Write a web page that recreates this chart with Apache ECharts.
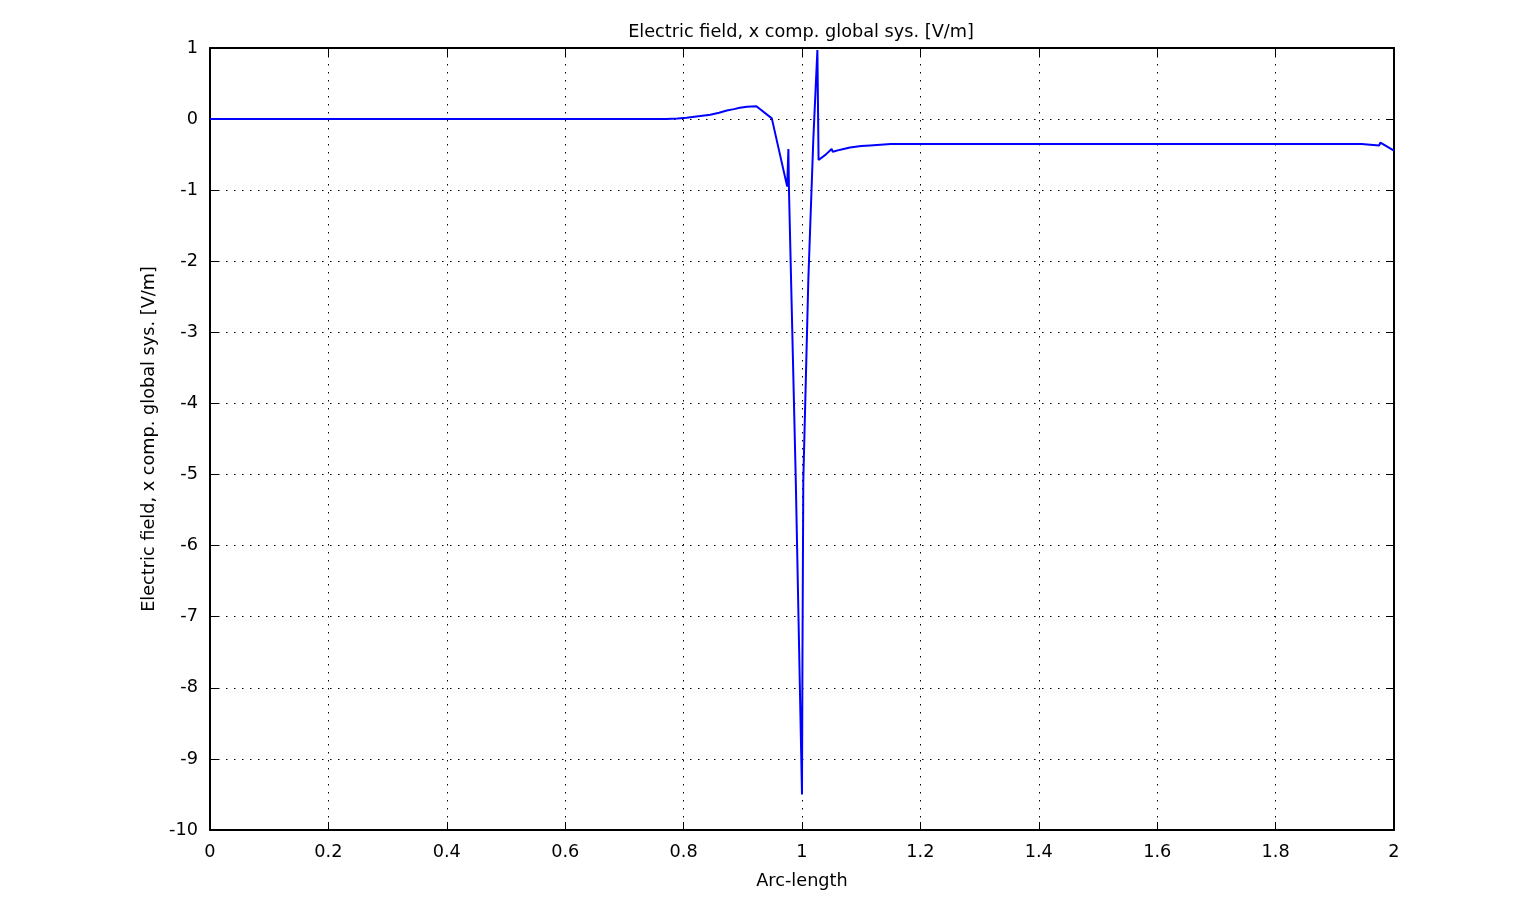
<!DOCTYPE html>
<html><head><meta charset="utf-8">
<script src="https://cdn.jsdelivr.net/npm/echarts@6/dist/echarts.min.js"></script>
<style>html,body{margin:0;padding:0;background:#fff}#c{width:1530px;height:905px}</style>
</head><body><div id="c"></div>
<script>
const titleText = "Electric field, x comp. global sys. [V/m]";
const xName = "Arc-length";
const yName = "Electric field, x comp. global sys. [V/m]";
const xTicks = [0, 0.2, 0.4, 0.6, 0.8, 1, 1.2, 1.4, 1.6, 1.8, 2];
const yTicks = [1, 0, -1, -2, -3, -4, -5, -6, -7, -8, -9, -10];
const arcLength = [0, 0.1, 0.2, 0.3, 0.4, 0.5, 0.6, 0.7, 0.77, 0.79, 0.805, 0.825, 0.845, 0.86, 0.873, 0.885, 0.895, 0.907, 0.923, 0.949, 0.975, 0.977, 0.978, 0.9895, 1.0, 1.0008, 1.0022, 1.0107, 1.0191, 1.026, 1.028, 1.04, 1.05, 1.052, 1.065, 1.081, 1.1, 1.115, 1.15, 1.3, 1.5, 1.7, 1.9, 1.945, 1.975, 1.977, 2.0];
const fieldX = [0, 0, 0, 0, 0, 0, 0, 0, 0.0, 0.01, 0.02, 0.04, 0.06, 0.09, 0.12, 0.14, 0.16, 0.175, 0.18, 0.01, -0.95, -0.42, -1.0, -5.08, -9.5, -7.5, -5.08, -2.26, -0.29, 0.97, -0.575, -0.5, -0.42, -0.46, -0.43, -0.40, -0.38, -0.37, -0.35, -0.35, -0.35, -0.35, -0.35, -0.35, -0.37, -0.33, -0.445];

const font = "DejaVu Sans";
const fs = 17.7;
const data = arcLength.map((x, i) => [x, fieldX[i]]);
const chart = echarts.init(document.getElementById('c'));
const axisCommon = {
  axisLine: {show: true, onZero: false, lineStyle: {color: '#000', width: 2}},
  axisTick: {show: true, inside: true, length: 8, lineStyle: {color: '#000', width: 1}},
  splitLine: {show: false}
};
const gridLine = {show: true, lineStyle: {color: '#000', width: 1, type: [1.5, 6.5]}};
chart.setOption({
  animation: false,
  backgroundColor: '#fff',
  title: {text: titleText, left: 796, top: 18, textAlign: 'center',
    textStyle: {fontFamily: font, fontSize: fs, fontWeight: 'normal', color: '#000'}},
  grid: {left: 210, right: 136, top: 48, bottom: 75},
  xAxis: [
    Object.assign({type: 'value', min: 0, max: 2, interval: 0.2, position: 'bottom',
      name: xName, nameLocation: 'middle', nameGap: 42,
      nameTextStyle: {fontFamily: font, fontSize: fs, color: '#000'},
      axisLabel: {fontFamily: font, fontSize: fs, color: '#000', margin: 13,
        formatter: v => String(Math.round(v * 10) / 10)}
      }, axisCommon, {splitLine: gridLine}),
    Object.assign({type: 'value', min: 0, max: 2, interval: 0.2, position: 'top',
      axisLabel: {show: false}}, axisCommon)
  ],
  yAxis: [
    Object.assign({type: 'value', min: -10, max: 1, interval: 1, position: 'left',
      name: yName, nameLocation: 'middle', nameGap: 51,
      nameTextStyle: {fontFamily: font, fontSize: fs, color: '#000'},
      axisLabel: {fontFamily: font, fontSize: fs, color: '#000', margin: 12}},
      axisCommon, {splitLine: gridLine}),
    Object.assign({type: 'value', min: -10, max: 1, interval: 1, position: 'right',
      axisLabel: {show: false}}, axisCommon)
  ],
  series: [{type: 'line', data: data, xAxisIndex: 0, yAxisIndex: 0, showSymbol: false,
    lineStyle: {color: '#0000ff', width: 2}, z: 5}]
});
</script></body></html>
